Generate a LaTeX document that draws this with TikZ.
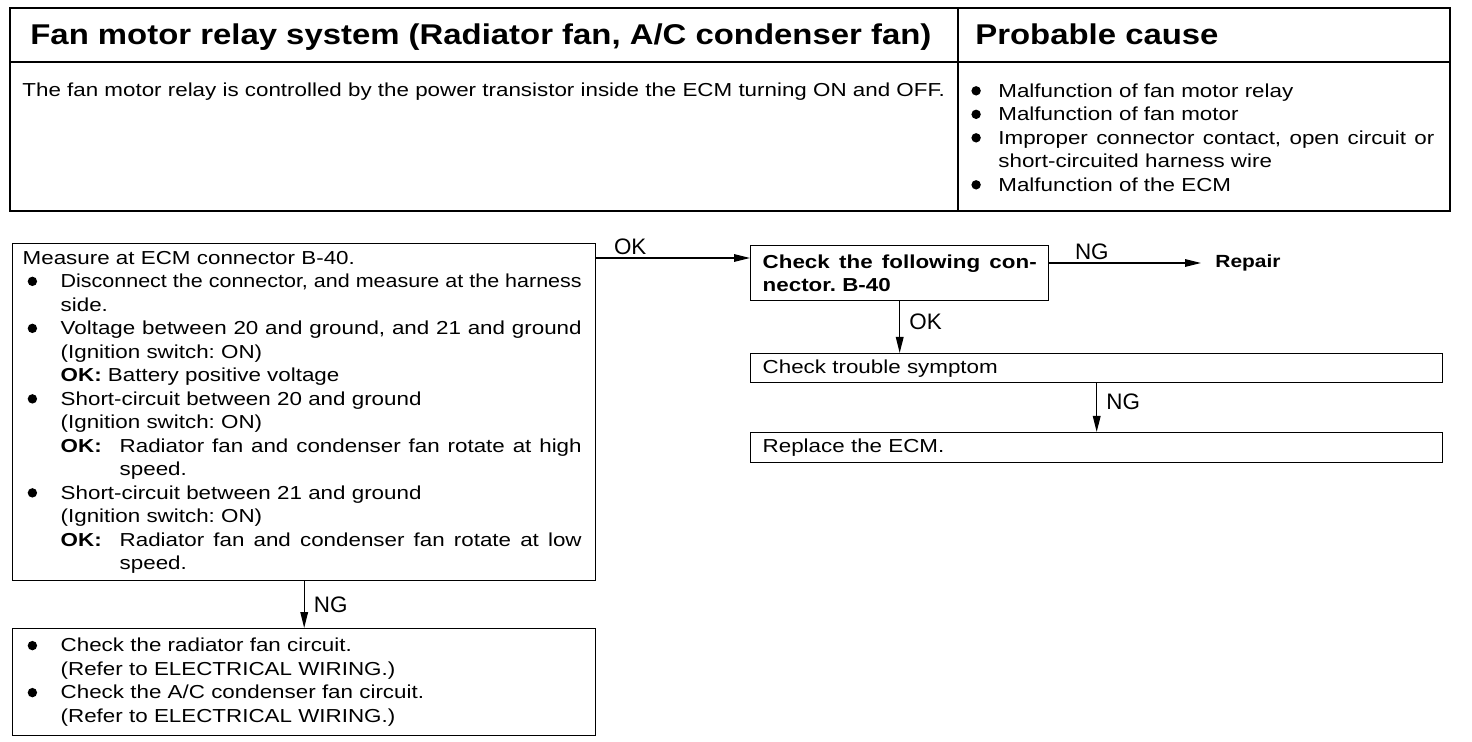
\documentclass[tikz,border=0pt]{standalone}
\usepackage{fontspec}
\setmainfont{Liberation Sans}[FakeStretch=1.19]
\newfontfamily\headfont{Liberation Sans}[FakeStretch=1.15]
\newfontfamily\verdictfont{Liberation Sans}[FakeStretch=1.0]
\usepackage{graphicx}
\usetikzlibrary{positioning,arrows.meta}
\frenchspacing

\newcommand{\bodysize}{\fontsize{9.4}{11.75}\selectfont}
\newcommand{\bdot}{\tikz[baseline=0pt]\fill (0,3.1pt) circle (2.35pt);}
\newcommand{\bul}{\makebox[19pt][l]{\hspace{2.5pt}\bdot}}
\newcommand{\bult}{\makebox[16pt][l]{\hspace{2.5pt}\bdot}}
\newcommand{\ind}{\hspace*{19pt}}
\newcommand{\okk}{\makebox[29.5pt][l]{\textbf{OK:}}}
\newcommand{\jst}[2]{\hbox to #1{\spaceskip=\fontdimen2\font plus 1fil\relax #2}}

\begin{document}
\begin{tikzpicture}[x=0.5pt,y=-0.5pt,
    flowbox/.style={draw, line width=0.7pt, anchor=north west, align=left,
        inner xsep=5pt, inner ysep=0pt, font=\bodysize},
    flowarrow/.style={-{Triangle[length=8pt,width=3.8pt]}, line width=0.65pt},
    verdict/.style={font=\verdictfont\fontsize{11.2}{13}\selectfont, inner sep=1.5pt}]
    \useasboundingbox (0,0) rectangle (1472,742);

    % Header table
    \draw[line width=1.4pt] (10,8) rectangle (1450,211);
    \draw[line width=0.7pt] (10,62) -- (1450,62);
    \draw[line width=0.7pt] (958,8) -- (958,211);
    \node[anchor=base west, inner sep=0, font=\headfont\bfseries\fontsize{14.3}{16}\selectfont]
        (title) at (30,45) {Fan motor relay system (Radiator fan, A/C condenser fan)};
    \node[anchor=base west, inner sep=0, font=\headfont\bfseries\fontsize{14.3}{16}\selectfont]
        (causehead) at (975,45) {Probable cause};
    \node[anchor=base west, inner sep=0, font=\bodysize] (summary) at (22,97)
        {The fan motor relay is controlled by the power transistor inside the ECM turning ON and OFF.};
    \node[anchor=north west, inner sep=0, align=left, text width=240pt, font=\bodysize]
        (causes) at (966,83) {%
        \bult Malfunction of fan motor relay\\
        \bult Malfunction of fan motor\\
        \bult\jst{218pt}{Improper connector contact, open circuit or}\\
        \hspace*{16pt}short-circuited harness wire\\
        \bult Malfunction of the ECM};

    % Flow boxes
    \node[flowbox, text width=281.5pt, minimum height=168.5pt] (measure) at (12,243) {%
        Measure at ECM connector B-40.\\
        \bul\resizebox{260.5pt}{\height}{Disconnect the connector, and measure at the harness}\\
        \ind side.\\
        \bul\jst{260.5pt}{Voltage between 20 and ground, and 21 and ground}\\
        \ind (Ignition switch: ON)\\
        \ind\textbf{OK:} Battery positive voltage\\
        \bul Short-circuit between 20 and ground\\
        \ind (Ignition switch: ON)\\
        \ind\okk\jst{231pt}{Radiator fan and condenser fan rotate at high}\\
        \ind\hspace*{29.5pt}speed.\\
        \bul Short-circuit between 21 and ground\\
        \ind (Ignition switch: ON)\\
        \ind\okk\jst{231pt}{Radiator fan and condenser fan rotate at low}\\
        \ind\hspace*{29.5pt}speed.};
    \node[flowbox, inner xsep=6pt, text width=137pt, minimum height=27.5pt,
        font=\bodysize\bfseries] (check) at (750,245) {%
        \jst{137pt}{Check the following con-}\\
        nector. B-40};
    \node[flowbox, inner xsep=6pt, text width=334pt, minimum height=14.5pt]
        (symptom) at (750,353) {Check trouble symptom};
    \node[flowbox, inner xsep=6pt, text width=334pt, minimum height=15pt]
        (ecm) at (750,432) {Replace the ECM.};
    \node[flowbox, text width=281.5pt, minimum height=53.5pt] (wiring) at (12,628) {%
        \bul Check the radiator fan circuit.\\
        \ind (Refer to ELECTRICAL WIRING.)\\
        \bul Check the A/C condenser fan circuit.\\
        \ind (Refer to ELECTRICAL WIRING.)};
    \node[anchor=west, inner xsep=7pt, inner ysep=0pt, font=\fontsize{8.8}{10}\selectfont\bfseries]
        (repair) at (1201,263) {Repair};

    % Connectors
    \coordinate (okin) at ([yshift=-6.5pt]check.north west);
    \draw[flowarrow] (measure.east |- okin) -- node[verdict, above, pos=0.22] {OK} (okin);
    \draw[flowarrow] (check.east |- repair) -- node[verdict, above, pos=0.28] {NG} (repair.west);
    \draw[flowarrow] (check.south) -- node[verdict, right=3pt, pos=0.4] {OK} (check.south |- symptom.north);
    \draw[flowarrow] (symptom.south) -- node[verdict, right=3pt, pos=0.38] {NG} (symptom.south |- ecm.north);
    \draw[flowarrow] (measure.south) -- node[verdict, right=3pt, pos=0.5] {NG} (measure.south |- wiring.north);
\end{tikzpicture}
\end{document}
